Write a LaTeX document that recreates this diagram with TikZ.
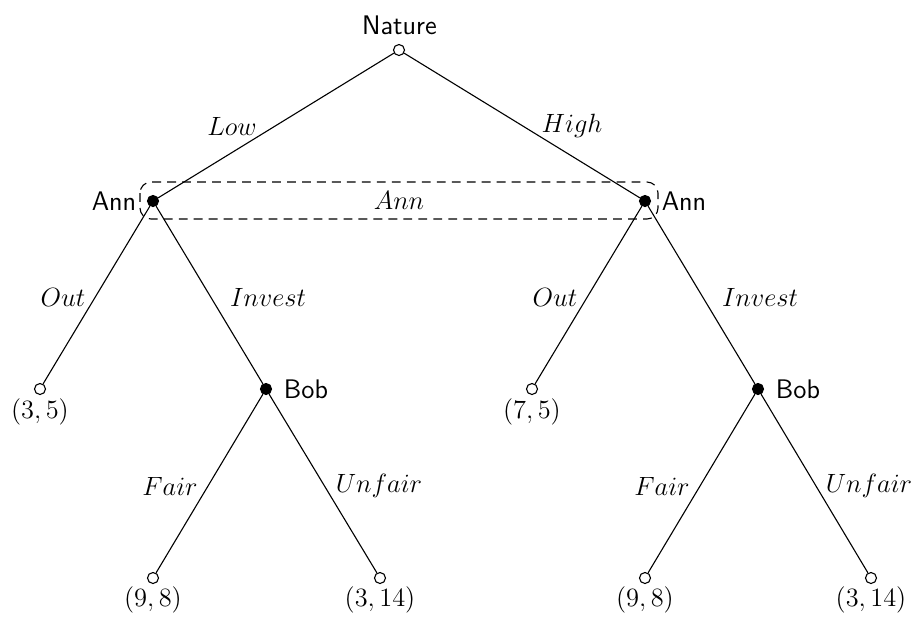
\documentclass[tikz,border=0pt]{standalone}
\usepackage{tikz}
\begin{document}
\begin{tikzpicture}[x=0.454pt,y=-0.454pt,
  every node/.append style={font=\fontsize{12.2pt}{14.5pt}\selectfont},
  chance/.style={circle,draw,fill=white,inner sep=0pt,minimum size=5pt,line width=0.5pt},
  decision/.style={circle,draw,fill=black,inner sep=0pt,minimum size=5pt,line width=0.5pt},
  player/.style={font=\fontsize{12.2pt}{14.5pt}\selectfont\sffamily,inner sep=0pt},
  elabel/.style={inner sep=0pt},
  payoff/.style={inner sep=0pt},
  edge/.style={draw,line width=0.5pt},
  infoset/.style={draw,line width=0.5pt,dash pattern=on 4pt off 2.8pt,rounded corners=5pt}]
\useasboundingbox (0,0) rectangle (916,621);
% edges first (under nodes)
\coordinate (natc) at (399,50);
% nodes
\node[chance] (nat) at (399,50) {};
\node[decision] (a1) at (153,201) {};
\node[decision] (a2) at (645,201) {};
\node[chance] (o1) at (40,389) {};
\node[decision] (b1) at (266,389) {};
\node[chance] (o2) at (532,389) {};
\node[decision] (b2) at (758,389) {};
\node[chance] (f1) at (153,578) {};
\node[chance] (u1) at (380,578) {};
\node[chance] (f2) at (645,578) {};
\node[chance] (u2) at (871,578) {};
% edges
\draw[edge] (nat) -- (a1);
\draw[edge] (nat) -- (a2);
\draw[edge] (a1) -- (o1);
\draw[edge] (a1) -- (b1);
\draw[edge] (a2) -- (o2);
\draw[edge] (a2) -- (b2);
\draw[edge] (b1) -- (f1);
\draw[edge] (b1) -- (u1);
\draw[edge] (b2) -- (f2);
\draw[edge] (b2) -- (u2);
% player labels
\node[player] (lnat) at (399.5,25) {Nature};
\node[player] (la1) at (114,201) {Ann};
\node[player] (la2) at (684,201) {Ann};
\node[player] (lb1) at (306,389) {Bob};
\node[player] (lb2) at (798,389) {Bob};
% information set
\coordinate (isnw) at (140,182);
\coordinate (isse) at (658,219);
\draw[infoset] (isnw) rectangle (isse);
\node[elabel] (lis) at (399,200) {$Ann$};
% edge labels
\node[elabel] (llow) at (232,126) {$Low$};
\node[elabel] (lhigh) at (572,126) {$High$};
\node[elabel] (lout1) at (63,297) {$Out$};
\node[elabel] (linv1) at (268,297) {$Invest$};
\node[elabel] (lout2) at (555,297) {$Out$};
\node[elabel] (linv2) at (760,297) {$Invest$};
\node[elabel] (lf1) at (170,486) {$Fair$};
\node[elabel] (lu1) at (379,486) {$Unfair$};
\node[elabel] (lf2) at (662,486) {$Fair$};
\node[elabel] (lu2) at (869,486) {$Unfair$};
% payoffs
\node[payoff] (p1) at (40,412) {$(3,5)$};
\node[payoff] (p2) at (532,412) {$(7,5)$};
\node[payoff] (p3) at (153,600) {$(9,8)$};
\node[payoff] (p4) at (380,600) {$(3,14)$};
\node[payoff] (p5) at (645,600) {$(9,8)$};
\node[payoff] (p6) at (871,600) {$(3,14)$};
\end{tikzpicture}
\end{document}
